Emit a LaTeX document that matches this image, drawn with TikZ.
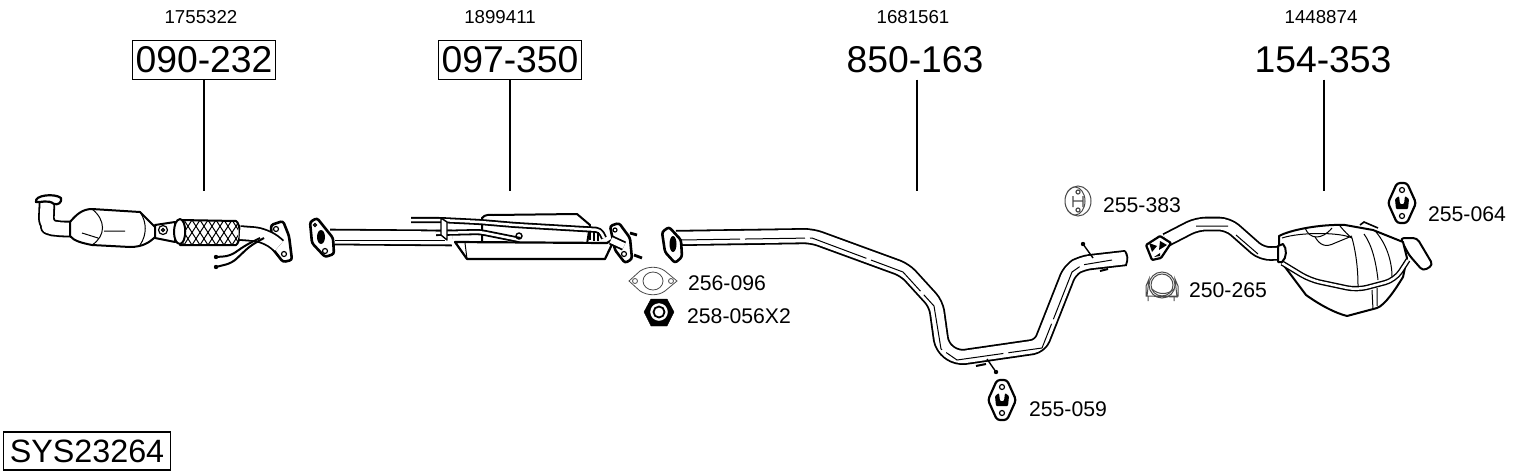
\documentclass[tikz,border=0pt]{standalone}
\usepackage{fontspec}
\setmainfont{Liberation Sans}
\usetikzlibrary{positioning}
\tikzset{
  x=1pt,y=-1pt,
  partno/.style={font=\fontsize{37.3}{37}\selectfont,inner sep=2pt,minimum height=39pt,minimum width=143pt},
  refno/.style={font=\fontsize{18.7}{20}\selectfont,inner sep=0pt},
  partlabel/.style={font=\fontsize{21.2}{23}\selectfont,inner sep=0pt},
  leader/.style={line width=1.3pt},
  outline/.style={line width=2pt,line join=round,fill=white},
  flange/.style={line width=2.6pt,line join=round,fill=white,rounded corners=2.5pt},
  thinline/.style={line width=1pt},
  rubber/.style={line width=0.8pt,draw=black!70},
  tube/.style={line width=1.8pt,double=white,double distance=#1,line join=round},
  tube/.default=12pt,
  hanger/.pic={
    \draw[outline,line width=2.2pt,rounded corners=3pt] (-5,-20) -- (5,-20) -- (14,0) -- (5,20) -- (-5,20) -- (-14,0) -- cycle;
    \draw[line width=1.2pt] (0,-13) circle (2.5) (0,13) circle (2.5);
    \fill[rounded corners=1pt] (-7,-4) -- (-3,-7) -- (-2,1) -- (2,1) -- (3,-7) -- (7,-4) -- (6,6) -- (-6,6) -- cycle;
  }
}
\begin{document}
\begin{tikzpicture}
  \useasboundingbox (0,0) rectangle (1530,474);

  \node[refno] (ref1) at (201,17) {1755322};
  \node[refno] (ref2) at (500,17) {1899411};
  \node[refno] (ref3) at (913,17) {1681561};
  \node[refno] (ref4) at (1321,17) {1448874};
  \node[partno,draw,line width=1.3pt] (part1) at (204,60) {090-232};
  \node[partno,draw,line width=1.3pt] (part2) at (510,60) {097-350};
  \node[partno] (part3) at (915,60) {850-163};
  \node[partno] (part4) at (1323,60) {154-353};
  \node[draw,line width=1.3pt,font=\fontsize{32.3}{32}\selectfont,inner sep=0pt,minimum width=167pt,minimum height=38pt] (sysno) at (87,451) {SYS23264};

  \coordinate (end1) at (204,191);
  \coordinate (end2) at (510,191);
  \coordinate (end3) at (917,191);
  \coordinate (end4) at (1324,191);
  \draw[leader] (part1) -- (end1);
  \draw[leader] (part2) -- (end2);
  \draw[leader] (part3.south -| end3) -- (end3);
  \draw[leader] (part4.south -| end4) -- (end4);

  \node[partlabel] (lab383) at (1142,205) {255-383};
  \node[partlabel] (lab265) at (1228,290) {250-265};
  \node[partlabel] (lab064) at (1467,214) {255-064};
  \node[partlabel] (lab096) at (727,283) {256-096};
  \node[partlabel] (lab056) at (739,316) {258-056X2};
  \node[partlabel] (lab059) at (1068,409) {255-059};

  % 090-232
  \draw[tube=13pt,rounded corners=8pt] (47,203) -- (46,226) -- (56,229) -- (74,229);
  \draw[outline,line width=2.2pt] (36,202) .. controls (34,195) and (55,193) .. (61,198)
    .. controls (62,203) and (58,205) .. (54,204) .. controls (48,199) and (40,203) .. (36,202) -- cycle;
  \draw[outline] (70,222) .. controls (76,215) and (82,209) .. (92,209) -- (140,212) -- (155,227)
    -- (155,237) .. controls (150,242) and (143,247) .. (130,247) -- (92,245) .. controls (82,243) and (74,241) .. (70,236) -- cycle;
  \draw[thinline] (92,209) .. controls (106,220) and (106,236) .. (92,245)
    (140,212) .. controls (147,222) and (147,235) .. (140,245)
    (104,231) -- (125,231) (82,233) -- (98,238);
  \draw[outline] (155,225) -- (175,222) -- (175,242) -- (155,238) -- cycle;
  \draw[line width=1.2pt] (163,230) circle (4.5) (163,230) circle (1.5);
  \draw[outline] (180,220) -- (236,221) .. controls (241,224) and (241,242) .. (236,245) -- (180,245) -- cycle;
  \begin{scope}
    \clip (183,220) rectangle (238,245);
    \foreach \xa in {160,168,...,250} {
      \draw[line width=1pt] (\xa,220) -- (\xa+16,245);
      \draw[line width=1pt] (\xa,245) -- (\xa+16,220);
    }
  \end{scope}
  \draw[outline] (180,219) .. controls (172,220) and (172,244) .. (180,244) .. controls (187,243) and (187,220) .. (180,219) -- cycle;
  \draw[flange] (271,225) -- (283,221) -- (289,236) -- (292,260) -- (283,262) -- (272,248) -- cycle;
  \draw[line width=1.2pt] (276,229) circle (2.5) (284,254) circle (2.5);
  \draw[tube=12pt,rounded corners=12pt] (240,233) -- (266,235) -- (279,246);
  \draw[line width=2pt,rounded corners=6pt] (216,257) -- (230,256) -- (246,245) -- (260,238);
  \draw[line width=2pt,rounded corners=6pt] (216,267) -- (232,263) -- (250,246) -- (264,238);
  \fill (216,257) circle (2.2) (216,267) circle (2.2);

  % 097-350
  \draw[tube=13pt] (330,237) -- (452,238);
  \draw[thinline] (335,240) -- (445,240);
  \draw[flange] (310,222) -- (317,218) -- (333,238) -- (334,254) -- (325,257) -- (312,243) -- cycle;
  \fill (321,237) ellipse (4 and 7);
  \draw[line width=1.2pt] (315,225) circle (1.5) (325,251) circle (2.5);
  \draw[outline] (482,218) .. controls (485,214) and (490,215) .. (493,215) -- (577,214) -- (590,225) -- (587,244) -- (482,244) -- cycle;
  \draw[outline,line width=2.2pt] (455,242) -- (607,243) -- (615,238) -- (605,259) -- (467,259) -- cycle;
  \draw[thinline] (465,243) -- (467,259);
  \draw[tube=2.5pt,rounded corners=4pt] (411,220) -- (440,220) -- (480,222) -- (515,225) -- (600,230) -- (604,238);
  \draw[tube=2.5pt,rounded corners=4pt] (436,233) -- (480,232) -- (520,240);
  \draw[line width=1.4pt] (519,236) circle (3);
  \draw[outline,line width=1.4pt] (441,218) -- (447,222) -- (447,240) -- (441,235) -- cycle;
  \draw[line width=1.4pt] (590,232) -- (590,240) (594,232) -- (594,241) (598,232) -- (598,241);
  \draw[flange] (610,226) -- (619,223) -- (630,238) -- (632,259) -- (625,263) -- (615,250) -- cycle;
  \draw[line width=1.2pt] (615,230) circle (2) (624,254) circle (2.5);
  \draw[tube=6pt] (611,240) -- (624,246);
  \draw[line width=2.8pt] (630,233) -- (637,235) (634,255) -- (642,258);

  % gasket and nut
  \draw[rubber] (629,281) -- (640,271) .. controls (648,266) and (658,266) .. (665,271) -- (677,281) -- (665,291) .. controls (658,296) and (648,296) .. (640,291) -- cycle;
  \draw[rubber] (653,281) ellipse (10 and 9) (635,281) circle (2.5) (671,281) circle (2.5);
  \draw[fill=black] (644,312) -- (651,299) -- (667,299) -- (674,312) -- (667,326) -- (651,326) -- cycle;
  \draw[fill=white,draw=white] (659,312) circle (8.5);
  \draw[line width=1.8pt] (659,312) circle (5.5);

  % 850-163
  \draw[tube=12.5pt,rounded corners=8pt] (676,238) -- (812,236) -- (905,270) -- (936,304) -- (942,347) -- (957,358) -- (1040,346) -- (1070,270) -- (1082,263) -- (1126,258);
  \draw[thinline,dash pattern=on 60pt off 5pt] (680,240) -- (812,238) -- (903,272) -- (934,306) -- (941,349) -- (957,360) -- (1042,348) -- (1072,272) -- (1082,265) -- (1112,260);
  \draw[line width=1.8pt] (1125,251) .. controls (1128,255) and (1128,260) .. (1126,265);
  \draw[flange] (662,232) -- (669,227) -- (681,240) -- (682,257) -- (675,263) -- (665,252) -- cycle;
  \fill (673,244) ellipse (3.5 and 8);
  \draw[line width=1.4pt] (1083,244) -- (1093,258) (996,372) -- (987,359);
  \fill (1083,244) circle (2.2) (996,372) circle (2.2);
  \draw[line width=2pt] (976,366) -- (986,364) (1100,271) -- (1108,269);

  % 154-353
  \draw[tube=11pt,rounded corners=9pt] (1166,240) -- (1197,224) -- (1228,224) -- (1262,254) -- (1282,253);
  \draw[thinline] (1196,226) -- (1228,226) (1236,235) -- (1258,254);
  \draw[outline,rounded corners=4pt] (1400,238) -- (1417,238) -- (1433,265) -- (1423,271) -- (1409,255) -- cycle;
  \draw[outline] (1279,236) .. controls (1290,230) and (1320,224) .. (1345,225) -- (1373,230) -- (1403,242)
    -- (1407,258) -- (1403,277) .. controls (1395,290) and (1385,305) .. (1377,308) -- (1347,316)
    .. controls (1335,313) and (1320,305) .. (1306,295) -- (1282,263) -- (1279,252) -- cycle;
  \draw[thinline] (1282,238) .. controls (1300,232) and (1340,232) .. (1352,238)
    (1315,237) .. controls (1320,245) and (1325,248) .. (1335,243) -- (1352,236)
    (1352,238) .. controls (1358,260) and (1358,280) .. (1358,288);
  \draw[thinline] (1364,234) .. controls (1372,245) and (1376,262) .. (1378,280)
    (1376,232) .. controls (1387,245) and (1392,262) .. (1392,277)
    (1372,290) -- (1373,310) (1377,288) -- (1377,306)
    (1305,228) .. controls (1310,240) and (1322,240) .. (1332,228)
    (1340,226) .. controls (1345,232) and (1348,235) .. (1352,238);
  \draw[tube=2.5pt,line width=1.4pt,rounded corners=10pt] (1282,263) -- (1310,280) -- (1357,290) -- (1395,280) -- (1408,260);
  \draw[line width=1.6pt] (1360,225) -- (1364,222) -- (1378,228);
  \draw[outline] (1278,246) -- (1283,244) .. controls (1287,248) and (1287,258) .. (1282,262) -- (1278,262) -- cycle;
  \draw[outline,line width=2.2pt,rounded corners=1pt] (1146,245) -- (1160,236) -- (1171,243) -- (1161,258) -- (1152,260) -- cycle;
  \fill (1149,243) -- (1157,246) -- (1152,252) -- cycle (1160,241) -- (1167,245) -- (1159,250) -- cycle (1154,257) -- (1160,253) -- (1160,256) -- cycle;

  % hangers and clamps
  \pic at (1402,203) {hanger};
  \pic at (1002,400) {hanger};
  \draw[rubber,line width=1pt] (1078,201) ellipse (13 and 15) (1075,201) ellipse (10 and 14);
  \draw[rubber,line width=1.2pt] (1073,196) -- (1073,207) (1083,196) -- (1083,207) (1073,201) -- (1083,201) (1078,192) circle (2) (1078,210) circle (2);
  \draw[rubber,line width=1pt] (1162,285) circle (13) (1162,285) circle (11);
  \draw[rubber,line width=1pt,fill=white] (1146,286) -- (1149,279) -- (1147,296) -- (1177,297) -- (1175,279) -- (1178,286) -- (1178,296) -- (1146,296) -- cycle;
  \draw[rubber,line width=1pt] (1148,296) -- (1148,301) (1174,297) -- (1174,301) (1152,289) .. controls (1158,295) and (1168,295) .. (1174,289);
\end{tikzpicture}
\end{document}
